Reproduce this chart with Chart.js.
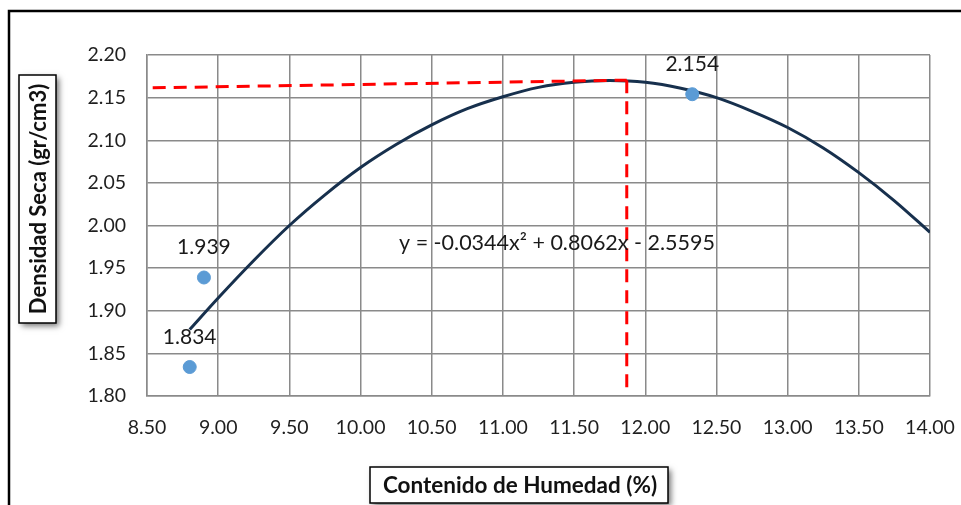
<!DOCTYPE html>
<html>
<head>
<meta charset="utf-8">
<script src="https://cdn.jsdelivr.net/npm/chart.js@4.4.1/dist/chart.umd.min.js"></script>
<style>
  html, body { margin: 0; padding: 0; background: #fff; }
  #wrap { width: 961px; height: 505px; position: relative; }
</style>
</head>
<body>
<div id="wrap"><canvas id="grafica"></canvas></div>
<script>
// puntos del ensayo
const humedad = [8.80, 8.90, 12.33]
const densidad = [1.834, 1.939, 2.154]
const etiquetas = ['1.834', '1.939', '2.154']

// curva de tendencia
const curvaX = [8.80, 9.00, 9.25, 9.50, 9.75, 10.00, 10.25, 10.50, 10.75, 11.00, 11.25, 11.50, 11.75, 12.00, 12.25, 12.50, 12.75, 13.00, 13.25, 13.50, 13.75, 14.00]
const curvaY = [1.878, 1.915, 1.959, 2.000, 2.036, 2.068, 2.095, 2.118, 2.137, 2.151, 2.162, 2.168, 2.170, 2.168, 2.161, 2.150, 2.134, 2.115, 2.091, 2.062, 2.029, 1.992]

// lineas guia rojas (optimo)
const guiaHX = [8.54, 11.87]
const guiaHY = [2.1615, 2.1705]
const guiaVX = [11.87, 11.87]
const guiaVY = [2.1705, 1.809]

const ecuacion = 'y = -0.0344x² + 0.8062x - 2.5595'
const tituloX = 'Contenido de Humedad (%)'
const tituloY = 'Densidad Seca (gr/cm3)'

const pares = (xs, ys) => xs.map((x, i) => ({ x: x, y: ys[i] }))

const fuente = 'Lato, "Open Sans", sans-serif'

const extras = {
    id: 'extras',
    beforeDraw(chart) {
        const c = chart.ctx
        c.save()
        c.fillStyle = '#fff'
        c.fillRect(0, 0, chart.width, chart.height)
        c.restore()
    },
    afterDraw(chart) {
        const c = chart.ctx
        const sx = chart.scales.x
        const sy = chart.scales.y
        c.save()
        // marco exterior
        c.strokeStyle = '#000'
        c.lineWidth = 2.5
        c.beginPath()
        c.moveTo(9, 600)
        c.lineTo(9, 11)
        c.lineTo(1000, 11)
        c.stroke()

        // etiquetas de puntos
        c.fillStyle = '#1a1a1a'
        c.font = '21px ' + fuente
        c.textAlign = 'center'
        c.textBaseline = 'middle'
        humedad.forEach((h, i) => {
            c.fillText(etiquetas[i], sx.getPixelForValue(h), sy.getPixelForValue(densidad[i]) - 30)
        })

        // ecuacion
        c.font = '21.5px ' + fuente
        c.fillText(ecuacion, 557, 243)

        // caja titulo X
        c.shadowColor = 'rgba(0,0,0,0.55)'
        c.shadowBlur = 6
        c.shadowOffsetX = 3
        c.shadowOffsetY = 3
        c.fillStyle = '#fff'
        c.fillRect(370, 467, 298, 36)
        c.shadowColor = 'transparent'
        c.strokeStyle = '#000'
        c.lineWidth = 1.5
        c.strokeRect(370, 467, 298, 36)
        c.fillStyle = '#111'
        c.font = 'bold 22.5px ' + fuente
        c.fillText(tituloX, 520, 486)

        // caja titulo Y
        c.translate(37.5, 199)
        c.rotate(-Math.PI / 2)
        c.shadowColor = 'rgba(0,0,0,0.55)'
        c.shadowBlur = 6
        c.shadowOffsetX = 3
        c.shadowOffsetY = 3
        c.fillStyle = '#fff'
        c.fillRect(-124, -18.5, 248, 37)
        c.shadowColor = 'transparent'
        c.strokeRect(-124, -18.5, 248, 37)
        c.fillStyle = '#111'
        c.font = 'bold 22px ' + fuente
        c.fillText(tituloY, 0, 1)
        c.restore()
    }
}

new Chart(document.getElementById('grafica'), {
    type: 'scatter',
    data: {
        datasets: [
            {
                type: 'line',
                data: pares(guiaHX, guiaHY),
                borderColor: '#ff0000',
                borderWidth: 3,
                borderDash: [13, 8],
                pointRadius: 0
            },
            {
                type: 'line',
                data: pares(guiaVX, guiaVY),
                borderColor: '#ff0000',
                borderWidth: 3,
                borderDash: [13, 8],
                pointRadius: 0
            },
            {
                data: pares(humedad, densidad),
                backgroundColor: '#5b9bd5',
                borderColor: '#5b9bd5',
                pointRadius: 6.5
            },
            {
                type: 'line',
                data: pares(curvaX, curvaY),
                borderColor: '#17304d',
                borderWidth: 3,
                pointRadius: 0,
                tension: 0.4,
                cubicInterpolationMode: 'monotone'
            }
        ]
    },
    options: {
        responsive: true,
        maintainAspectRatio: false,
        animation: false,
        layout: { padding: { top: 55, left: 0, right: 31, bottom: 0 } },
        plugins: {
            legend: { display: false },
            tooltip: { enabled: false }
        },
        scales: {
            x: {
                type: 'linear',
                min: 8.5,
                max: 14,
                afterFit: (s) => {
                    s.height = 109
                    s.paddingLeft = 0
                    s.paddingRight = 0
                },
                ticks: {
                    stepSize: 0.5,
                    padding: 20,
                    color: '#1f1f1f',
                    font: { family: fuente, size: 19.5 },
                    callback: (v) => v.toFixed(2)
                },
                grid: { color: '#8a8a8a', lineWidth: 1.5, drawTicks: false },
                border: { color: '#8a8a8a', width: 1.5 }
            },
            y: {
                min: 1.8,
                max: 2.2,
                afterFit: (s) => {
                    s.width = 147
                    s.paddingTop = 0
                    s.paddingBottom = 0
                },
                ticks: {
                    stepSize: 0.05,
                    padding: 21,
                    color: '#1f1f1f',
                    font: { family: fuente, size: 19.5 },
                    callback: (v) => v.toFixed(2)
                },
                grid: { color: '#8a8a8a', lineWidth: 1.5, drawTicks: false },
                border: { color: '#8a8a8a', width: 1.5 }
            }
        }
    },
    plugins: [extras]
})
</script>
</body>
</html>
